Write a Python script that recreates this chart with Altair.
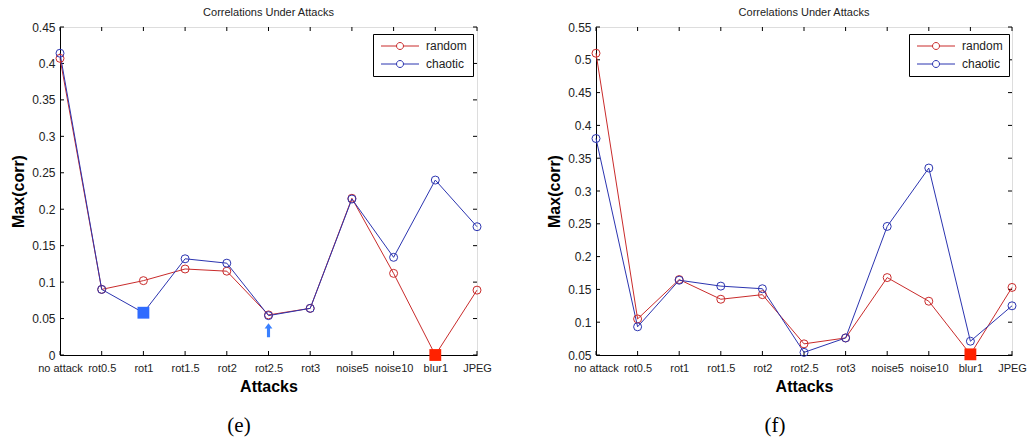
import altair as alt
import pandas as pd

# ---------------- data ----------------
categories = ["no attack", "rot0.5", "rot1", "rot1.5", "rot2", "rot2.5",
              "rot3", "noise5", "noise10", "blur1", "JPEG"]
series_names = ["random", "chaotic"]

e_random = [0.407, 0.090, 0.102, 0.118, 0.115, 0.055, 0.064, 0.215, 0.112, 0.000, 0.089]
e_chaotic = [0.414, 0.090, 0.058, 0.132, 0.126, 0.054, 0.064, 0.214, 0.134, 0.240, 0.176]

f_random = [0.510, 0.105, 0.165, 0.135, 0.142, 0.067, 0.076, 0.168, 0.132, 0.051, 0.153]
f_chaotic = [0.380, 0.093, 0.164, 0.155, 0.151, 0.054, 0.076, 0.246, 0.335, 0.071, 0.125]

e_yticks = [0, 0.05, 0.1, 0.15, 0.2, 0.25, 0.3, 0.35, 0.4, 0.45]
f_yticks = [0.05, 0.1, 0.15, 0.2, 0.25, 0.3, 0.35, 0.4, 0.45, 0.5, 0.55]

# annotation markers (square highlights and arrow)
e_square_attack = ["rot1", "blur1"]
e_square_value = [0.058, 0.0]
e_square_color = ["#2f6bff", "#ff2200"]
e_arrow_attack = ["rot2.5"]
e_arrow_value = [0.034]

f_square_attack = ["blur1"]
f_square_value = [0.051]
f_square_color = ["#ff2200"]

captions = ["(e)", "(f)"]

RED = "#c92b2b"
BLUE = "#2b34b0"
FONT = "Liberation Sans"
H = 328

LEG_PATH = ("M-1,0 L2.875,0 M4.625,0 L8.5,0 "
            "M4.625,0 A0.875,0.875 0 1,1 2.875,0 A0.875,0.875 0 1,1 4.625,0")
ARROW_PATH = "M0,-1 L0.55,-0.25 L0.22,-0.25 L0.22,1 L-0.22,1 L-0.22,-0.25 L-0.55,-0.25 Z"


def panel(rand, chao, yticks, ydomain, sq_att, sq_val, sq_col, arr_att, arr_val, caption, W):
    df = pd.DataFrame({
        "attack": categories * 2,
        "series": ["random"] * len(categories) + ["chaotic"] * len(categories),
        "value": rand + chao,
    })
    X = alt.X("attack:N", sort=categories,
              scale=alt.Scale(type="point", padding=0, domain=categories),
              axis=alt.Axis(title="Attacks", titleFont=FONT, titleFontSize=16,
                            titleFontWeight="bold", titleColor="black",
                            titleY=31, titleBaseline="middle",
                            labelFont=FONT, labelFontSize=11, labelColor="#222",
                            labelAngle=0, labelPadding=7, labelOverlap=False,
                            labelFlush=False, ticks=False, tickSize=0,
                            domainColor="black", grid=False))
    Y = alt.Y("value:Q",
              scale=alt.Scale(domain=ydomain, nice=False, zero=False),
              axis=alt.Axis(title="Max(corr)", titleFont=FONT, titleFontSize=16,
                            titleFontWeight="bold", titleColor="black",
                            titleX=-42, titleY=H / 2, titleAngle=-90,
                            titleAlign="center", titleBaseline="middle",
                            values=yticks, format=".2~f",
                            labelFont=FONT, labelFontSize=12, labelColor="#222",
                            labelPadding=5, labelOverlap=False, labelFlush=False,
                            ticks=False, tickSize=0, domainColor="black", grid=False))
    cscale = alt.Scale(domain=series_names, range=[RED, BLUE])

    lines = alt.Chart(df).mark_line(strokeWidth=1).encode(
        x=X, y=Y, color=alt.Color("series:N", scale=cscale, legend=None))
    points = alt.Chart(df).mark_point(filled=False, size=64, strokeWidth=1, opacity=1).encode(
        x=X, y=Y,
        color=alt.Color("series:N", scale=cscale, title=None,
                        legend=alt.Legend(orient="none", legendX=313, legendY=7,
                                          title=None, strokeColor="black",
                                          fillColor="white", padding=6,
                                          symbolType=LEG_PATH, symbolSize=64,
                                          symbolStrokeWidth=1, labelOffset=35,
                                          labelFont=FONT, labelFontSize=12,
                                          labelColor="#222", rowPadding=6)))

    xt = pd.DataFrame({"attack": categories})
    yt = pd.DataFrame({"value": yticks})
    layers = [
        alt.Chart(xt).mark_rule(color="black", strokeWidth=1).encode(
            x=X, y=alt.value(H), y2=alt.value(H - 4)),
        alt.Chart(xt).mark_rule(color="black", strokeWidth=1).encode(
            x=X, y=alt.value(0), y2=alt.value(4)),
        alt.Chart(yt).mark_rule(color="black", strokeWidth=1).encode(
            y=Y, x=alt.value(0), x2=alt.value(4)),
        alt.Chart(yt).mark_rule(color="black", strokeWidth=1).encode(
            y=Y, x=alt.value(W - 4), x2=alt.value(W)),
        lines, points,
    ]

    sq = pd.DataFrame({"attack": sq_att, "value": sq_val, "c": sq_col})
    layers.append(alt.Chart(sq).mark_square(size=140, opacity=1).encode(
        x=X, y=Y, color=alt.Color("c:N", scale=None)))

    if arr_att:
        ar = pd.DataFrame({"attack": arr_att, "value": arr_val})
        layers.append(alt.Chart(ar).mark_point(shape=ARROW_PATH, size=200, filled=True,
                                               color="#3a80ff", opacity=1).encode(x=X, y=Y))

    cap = pd.DataFrame({"caption": [caption]})
    layers.append(alt.Chart(cap).mark_text(font="Liberation Serif", fontSize=21,
                                           color="black", baseline="middle").encode(
        text="caption:N", x=alt.value(179), y=alt.value(399)))

    return alt.layer(*layers).resolve_scale(color="independent").properties(
        width=W, height=H,
        title=alt.TitleParams("Correlations Under Attacks", font=FONT, fontSize=11,
                              fontWeight="normal", color="#222", offset=3,
                              anchor="middle"))


left = panel(e_random, e_chaotic, e_yticks, [0, 0.45], e_square_attack, e_square_value,
             e_square_color, e_arrow_attack, e_arrow_value, captions[0], 417)
right = panel(f_random, f_chaotic, f_yticks, [0.05, 0.55], f_square_attack, f_square_value,
              f_square_color, [], [], captions[1], 416)

chart = alt.hconcat(left, right, spacing=119).resolve_scale(
    color="independent").resolve_legend(color="independent").properties(
    bounds="flush",
    autosize=alt.AutoSizeParams(type="pad"),
    padding={"left": 9, "top": 6, "right": 0, "bottom": 0},
).configure_view(stroke="black", strokeWidth=1).configure(background="white")

chart.save("out.html", embed_options={"renderer": "svg", "actions": False})
